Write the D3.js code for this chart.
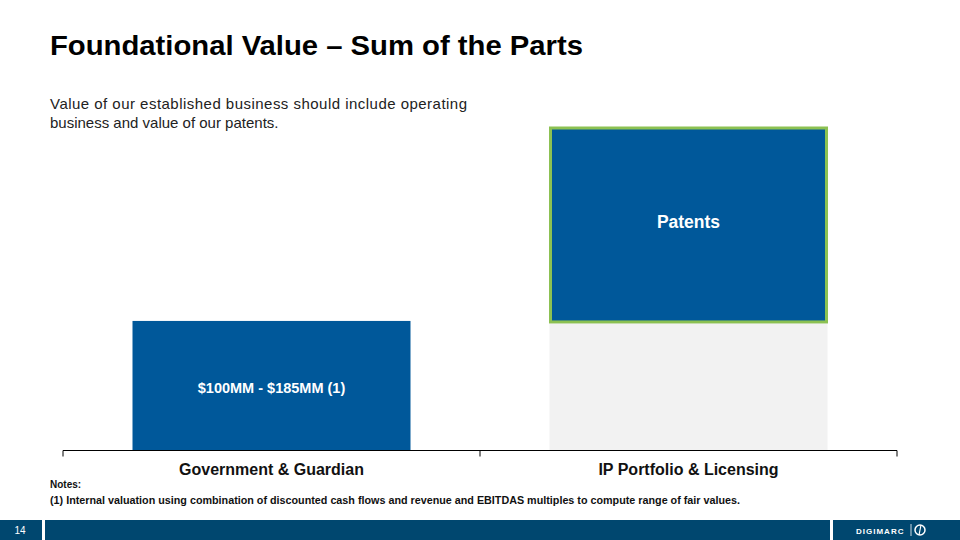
<!DOCTYPE html>
<html><head><meta charset="utf-8">
<script src="https://cdn.jsdelivr.net/npm/d3@7"></script>
<style>body{margin:0;background:#fff;}svg{display:block;font-family:"Liberation Sans",Arial,sans-serif;}</style>
</head><body>
<svg id="c" width="960" height="540"></svg>
<script>
const categories = ["Government & Guardian", "IP Portfolio & Licensing"];
const baseValues = [185, 185];        // operating business level
const patentValues = [0, 278];        // patents stacked on top
const baseLabels = ["$100MM - $185MM (1)", ""];
const patentLabels = ["", "Patents"];
const title = "Foundational Value \u2013 Sum of the Parts";
const subtitle = ["Value of our established business should include operating", "business and value of our patents."];
const notes = ["Notes:", "(1) Internal valuation using combination of discounted cash flows and revenue and EBITDAS multiples to compute range of fair values."];

const svg = d3.select("#c");
const x = d3.scaleBand().domain(categories).range([63, 897]).paddingInner(1/3).paddingOuter(1/6);
const y = d3.scaleLinear().domain([0, 463]).range([450, 127]);

svg.append("text").attr("x", 50).attr("y", 55).attr("font-size", 28).attr("font-weight", "bold").attr("fill", "#000")
  .attr("textLength", 533).attr("lengthAdjust", "spacingAndGlyphs").text(title);
svg.append("text").attr("x", 50).attr("y", 109).attr("font-size", 15).attr("fill", "#222")
  .attr("textLength", 417).attr("lengthAdjust", "spacing").text(subtitle[0]);
svg.append("text").attr("x", 50).attr("y", 128).attr("font-size", 15).attr("fill", "#222").text(subtitle[1]);

// base bars
svg.selectAll(".base").data(categories).join("rect")
  .attr("x", d => x(d)).attr("width", x.bandwidth())
  .attr("y", (d, i) => y(baseValues[i])).attr("height", (d, i) => y(0) - y(baseValues[i]))
  .attr("fill", (d, i) => i === 0 ? "#00589A" : "#F2F2F2");
// patents
svg.selectAll(".pat").data(categories.filter((d, i) => patentValues[i] > 0)).join("rect")
  .attr("x", d => x(d) + 1).attr("width", x.bandwidth() - 2)
  .attr("y", d => { const i = categories.indexOf(d); return y(baseValues[i] + patentValues[i]) + 1; })
  .attr("height", d => { const i = categories.indexOf(d); return y(baseValues[i]) - y(baseValues[i] + patentValues[i]); })
  .attr("fill", "#00589A").attr("stroke", "#8CC152").attr("stroke-width", 3);

categories.forEach((c, i) => {
  if (baseLabels[i]) svg.append("text").attr("x", x(c) + x.bandwidth() / 2).attr("y", y(baseValues[i] / 2) + 8)
    .attr("text-anchor", "middle").attr("font-size", 14.5).attr("font-weight", "bold").attr("fill", "#fff").text(baseLabels[i]);
  if (patentLabels[i]) svg.append("text").attr("x", x(c) + x.bandwidth() / 2).attr("y", y(baseValues[i] + patentValues[i] / 2) + 4)
    .attr("text-anchor", "middle").attr("font-size", 17.5).attr("font-weight", "bold").attr("fill", "#fff").text(patentLabels[i]);
});

// axis
const ax = svg.append("g").attr("transform", "translate(0,450.5)");
ax.append("line").attr("x1", 63).attr("x2", 897).attr("stroke", "#000");
[63, 480, 897].forEach(t => ax.append("line").attr("x1", t).attr("x2", t).attr("y1", 0).attr("y2", 6).attr("stroke", "#000"));
categories.forEach(c => ax.append("text").attr("x", x(c) + x.bandwidth() / 2).attr("y", 24)
  .attr("text-anchor", "middle").attr("font-size", 16).attr("font-weight", "bold").attr("fill", "#111").text(c));

// notes
svg.append("text").attr("x", 50).attr("y", 488).attr("font-size", 10).attr("font-weight", "bold").attr("fill", "#111").text(notes[0]);
svg.append("text").attr("x", 50).attr("y", 504).attr("font-size", 10).attr("font-weight", "bold").attr("fill", "#111")
  .attr("textLength", 690).attr("lengthAdjust", "spacingAndGlyphs").text(notes[1]);

// footer
const fc = "#00476F";
svg.append("rect").attr("x", 0).attr("y", 520).attr("width", 42).attr("height", 20).attr("fill", fc);
svg.append("rect").attr("x", 45).attr("y", 520).attr("width", 785).attr("height", 20).attr("fill", fc);
svg.append("rect").attr("x", 833).attr("y", 520).attr("width", 127).attr("height", 20).attr("fill", fc);
svg.append("text").attr("x", 20).attr("y", 534).attr("text-anchor", "middle").attr("font-size", 10).attr("fill", "#fff").text("14");
svg.append("text").attr("x", 856).attr("y", 534).attr("font-size", 8).attr("font-weight", "bold").attr("letter-spacing", 1).attr("fill", "#fff").text("DIGIMARC");
svg.append("line").attr("x1", 911).attr("x2", 911).attr("y1", 524).attr("y2", 536).attr("stroke", "#fff").attr("stroke-width", 0.8);
svg.append("circle").attr("cx", 920).attr("cy", 530).attr("r", 5).attr("fill", "none").attr("stroke", "#fff").attr("stroke-width", 1.5);
svg.append("line").attr("x1", 921).attr("x2", 919).attr("y1", 525).attr("y2", 535).attr("stroke", "#fff").attr("stroke-width", 1.2);
</script>
</body></html>
